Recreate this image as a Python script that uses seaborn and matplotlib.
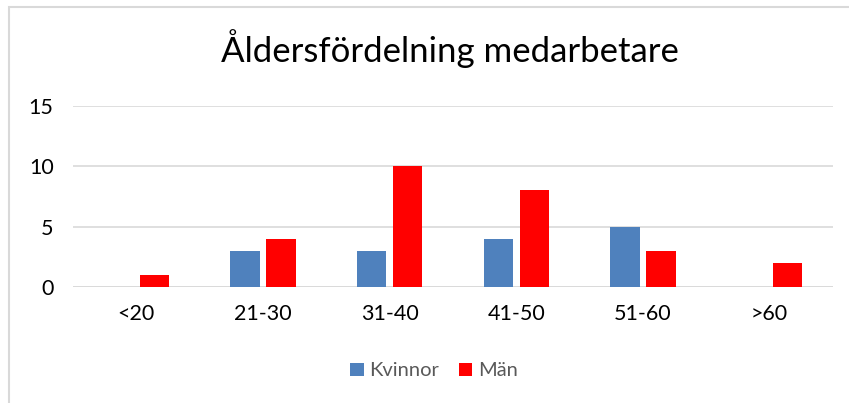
import matplotlib
matplotlib.use("Agg")
import matplotlib.pyplot as plt
import seaborn as sns
import pandas as pd
from matplotlib.patches import Rectangle

categories = ["<20", "21-30", "31-40", "41-50", "51-60", ">60"]
kvinnor = [0, 3, 3, 4, 5, 0]
man = [1, 4, 10, 8, 3, 2]
series_names = ["Kvinnor", "Män"]
yticks = [0, 5, 10, 15]

df = pd.DataFrame({
    "Ålder": categories * 2,
    "Antal": kvinnor + man,
    "Kön": [series_names[0]] * len(categories) + [series_names[1]] * len(categories),
})

sns.set_theme(style="white")
plt.rcParams["font.family"] = ["Lato", "DejaVu Sans"]

fig = plt.figure(figsize=(8.49, 4.03), dpi=100)
ax = fig.add_axes([73 / 849, 1 - 287 / 403, (833 - 73) / 849, (287 - 106) / 403])

palette = {"Kvinnor": "#4F81BD", "Män": "#FF0000"}
sns.barplot(data=df, x="Ålder", y="Antal", hue="Kön", order=categories,
            hue_order=series_names, palette=palette, width=0.57, gap=0.19,
            saturation=1, ax=ax, legend=True, linewidth=0)

ax.set_ylim(0, 15)
ax.set_yticks(yticks)
ax.set_xlim(-0.5, len(categories) - 0.5)
ax.yaxis.grid(True, color="#D9D9D9", linewidth=1.2)
ax.set_axisbelow(True)
for s in ax.spines.values():
    s.set_visible(False)
ax.set_xlabel("")
ax.set_ylabel("")
ax.tick_params(axis="both", length=0, labelsize=15.5, colors="#000000")
ax.tick_params(axis="x", pad=12)
ax.tick_params(axis="y", pad=14)
ax.axhline(0, color="#D9D9D9", linewidth=1.2, zorder=0.5)

leg = ax.legend(loc="center", bbox_to_anchor=((434 - 73) / 760, (287 - 371) / 181),
                ncol=2, frameon=False, fontsize=14.5, handlelength=0.65,
                handleheight=0.65, handletextpad=0.3, columnspacing=0.95)
for t in leg.get_texts():
    t.set_color("#595959")

fig.text(450 / 849, 1 - 49 / 403, "Åldersfördelning medarbetare",
         ha="center", va="center", fontsize=25, color="#000000")

fig.patches.append(Rectangle((9 / 849, -0.1), 1.2, 1 - 7 / 403 + 0.1,
                             transform=fig.transFigure, fill=False,
                             edgecolor="#D9D9D9", linewidth=1.5))

fig.savefig("out.png", dpi=100)
